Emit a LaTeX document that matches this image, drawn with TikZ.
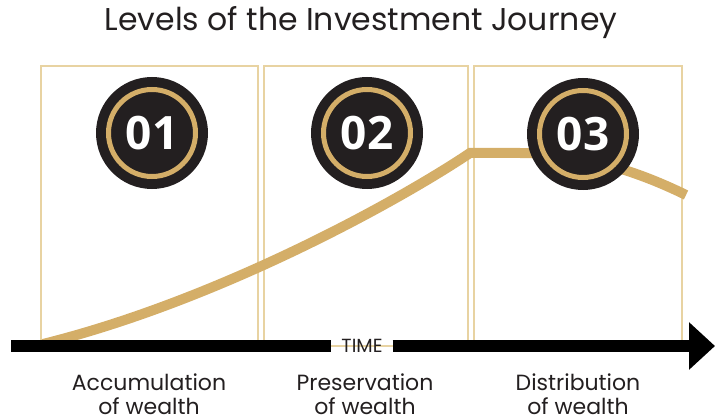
\documentclass[tikz,border=0pt]{standalone}
\usepackage{fontspec}
\setmainfont{Poppins}
\newfontfamily\numfont{Open Sans}
\usepackage{xcolor}
\usetikzlibrary{positioning, arrows.meta}
\definecolor{ink}{HTML}{231F20}
\definecolor{gold}{HTML}{D4AE68}
\definecolor{paleGold}{HTML}{E8D3A2}
\tikzset{
  panel/.style={draw=paleGold, line width=1.2pt},
  trend/.style={draw=gold, line width=10pt},
  badge/.style={circle, fill=ink, minimum size=112pt, inner sep=0pt,
                text=white, font=\numfont\bfseries\fontsize{46}{46}\selectfont},
  ring/.style={circle, draw=gold, line width=5pt, minimum size=87pt, inner sep=0pt},
  stage/.style={align=center, text=ink, font=\fontsize{22}{24}\selectfont},
  timeline/.style={draw=black, line width=12pt},
}

\begin{document}
\begin{tikzpicture}[x=1pt, y=-1pt]
  \useasboundingbox (0,0) rectangle (715,417);
  \node[text=ink, font=\fontsize{31.5}{31.5}\selectfont] (title) at (361,23) {Levels of the Investment Journey};
  % the three stage panels
  \draw[panel] (41,66) rectangle (258,346);
  \draw[panel] (264,66) rectangle (468,346);
  \draw[panel] (474,66) rectangle (682,346);
  % wealth curve
  \coordinate (w0) at (43,344);
  \coordinate (wpeak) at (470,153);
  \coordinate (wflat) at (520,153);
  \coordinate (w1) at (686,195);
  \draw[trend] (w0) .. controls (220,300) and (400,200) .. (wpeak) -- (wflat)
               .. controls (570,153) and (625,165) .. (w1);
  % badges
  \node[badge] (s1) at (152,133) {01};
  \node[badge] (s2) at (367,133) {02};
  \node[badge] (s3) at (583,134) {03};
  \node[ring] at (s1) {}; \node[ring] at (s2) {}; \node[ring] at (s3) {};
  % time axis
  \coordinate (t0) at (11,346);
  \coordinate (t1) at (715,346);
  \node[text=ink, font=\fontsize{19}{19}\selectfont, inner xsep=10pt] (time) at (362,346) {TIME};
  \draw[timeline] (t0) -- (time.west);
  \draw[timeline, -{Triangle[length=26pt, width=46pt]}] (time.east) -- (t1);
  % stage labels
  \node[stage] (acc) at (149,394) {Accumulation\\of wealth};
  \node[stage] (pre) at (365,394) {Preservation\\of wealth};
  \node[stage] (dis) at (578,394) {Distribution\\of wealth};
\end{tikzpicture}
\end{document}
